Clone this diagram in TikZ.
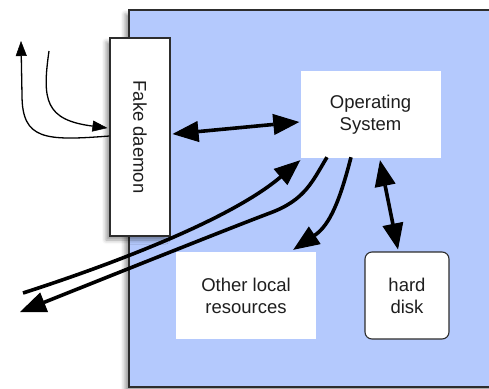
\documentclass[tikz,border=0pt]{standalone}
\usepackage{fontspec}
\setmainfont{Liberation Sans}
\usepackage{graphicx}
\usetikzlibrary{arrows.meta,shadows.blur}
\definecolor{bluebg}{RGB}{180,201,253}
\definecolor{edgec}{RGB}{45,45,45}
\definecolor{textc}{RGB}{30,30,30}
\tikzset{
  lbl/.style={font=\fontsize{18.5}{22}\selectfont, text=textc, align=center, inner sep=0pt},
  whitebox/.style={lbl, fill=white},
  sh/.style={blur shadow={shadow xshift=-4pt, shadow yshift=-4pt, shadow blur radius=4pt, shadow opacity=40}},
  thickarrow/.style={line width=3.6pt, -{Triangle[length=26pt,width=21pt,line width=1pt,fill=black]}},
  thickboth/.style={line width=3.6pt, {Triangle[length=26pt,width=21pt,line width=1pt,fill=black]}-{Triangle[length=26pt,width=21pt,line width=1pt,fill=black]}},
  thinarrow/.style={line width=1.3pt, -{Triangle[length=15pt,width=11pt,line width=0.5pt,fill=black]}}
}
\begin{document}
\begin{tikzpicture}[x=1pt,y=-1pt]
\useasboundingbox (0,0) rectangle (489,388);
% host box
\path[fill=bluebg, sh] (129,10) rectangle (520,387);
\draw[edgec, line width=1.3pt] (520,10) -- (129,10) -- (129,387) -- (520,387);
% nodes
\node[whitebox, draw=edgec, line width=1.1pt, minimum width=60pt, minimum height=198pt, sh] (fake) at (140,137) {\rotatebox{-90}{Fake daemon}};
\node[whitebox, minimum width=140pt, minimum height=87pt] (os) at (370.5,114.5) {Operating\\System};
\node[whitebox, minimum width=140pt, minimum height=87pt] (other) at (246,295.5) {Other local\\resources};
\node[whitebox, draw=edgec, line width=1.1pt, rounded corners=7pt, minimum width=84pt, minimum height=87pt] (disk) at (407,295.5) {hard\\disk};
% free ends
\coordinate (up1) at (21,41);
\coordinate (s2) at (49,51);
\coordinate (c1) at (23,293);
\coordinate (d1) at (20,312);
% thin arrows
\draw[thinarrow] ([yshift=1pt]fake.west) .. controls (45,141) and (22,140) .. (22,95) -- (up1);
\draw[thinarrow] (s2) .. controls (42,100) and (45,120) .. ([xshift=-2pt,yshift=9pt]fake.west);
% thick arrows
\draw[thickboth] ([xshift=2pt,yshift=3pt]fake.east) -- ([xshift=-1pt,yshift=-7.5pt]os.west);
\draw[thickarrow] (c1) .. controls (110,265) and (230,220) .. ([yshift=-2pt]os.south west);
\draw[thickarrow] ([xshift=-43.5pt,yshift=1pt]os.south) .. controls (312,182) and (305,200) .. (270,213) .. controls (230,228) and (100,280) .. (d1);
\draw[thickarrow] ([xshift=-19.5pt,yshift=1pt]os.south) .. controls (340,200) and (330,225) .. ([xshift=-23pt,yshift=2pt]other.north east);
\draw[thickboth] ([xshift=9.5pt,yshift=-2pt]os.south) -- ([xshift=-9pt,yshift=2pt]disk.north);
\end{tikzpicture}
\end{document}
